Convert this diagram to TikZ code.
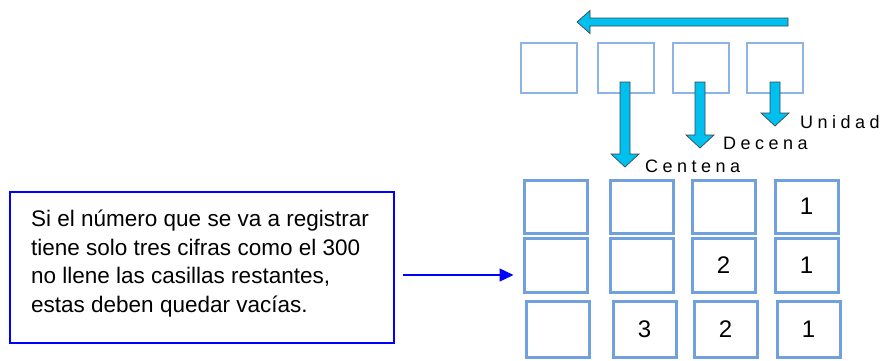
\documentclass[tikz,border=0pt]{standalone}
\usepackage{fontspec}
\setmainfont{Liberation Sans}
\newfontfamily\espaciada[LetterSpace=25]{Liberation Sans}
\usetikzlibrary{arrows.meta}

\definecolor{azulcasilla}{RGB}{112,160,222}
\definecolor{azulclaro}{RGB}{140,180,232}
\definecolor{celeste}{RGB}{0,192,240}
\definecolor{bordeflecha}{RGB}{60,70,80}

\tikzset{
  casilla/.style={draw=azulcasilla, line width=3pt, minimum width=63pt,
    minimum height=54pt, inner sep=0pt, font=\fontsize{24}{24}\selectfont},
  casillaarriba/.style={draw=azulclaro, line width=1.5pt, minimum width=56pt,
    minimum height=50pt, inner sep=0pt},
  bloque/.style={fill=celeste, draw=bordeflecha, line width=0.7pt},
  rotulo/.style={anchor=base west, inner sep=0pt, font=\espaciada\fontsize{18}{18}\selectfont},
  flecha/.style={draw=blue, line width=1.3pt, -{Triangle[length=14pt,width=13pt]}}
}

\begin{document}
\begin{tikzpicture}[x=1pt,y=-1pt]
        \useasboundingbox (0,0) rectangle (885,360);

        % casillas de arriba
        \node[casillaarriba] (t1) at (549,68) {};
        \node[casillaarriba] (t2) at (626,68) {};
        \node[casillaarriba] (t3) at (701,68) {};
        \node[casillaarriba] (t4) at (775,68) {};

        % flecha de derecha a izquierda
        \draw[bloque] (788,18) -- (590,18) -- (590,10.5) -- (577,22)
        -- (590,33.5) -- (590,26) -- (788,26) -- cycle;

        % flechas hacia abajo
        \draw[bloque] (620,82) -- (630,82) -- (630,154) -- (639,154)
        -- (625,167) -- (611,154) -- (620,154) -- cycle;
        \draw[bloque] (695,82) -- (705,82) -- (705,135) -- (714,135)
        -- (700,148) -- (686,135) -- (695,135) -- cycle;
        \draw[bloque] (770,82) -- (780,82) -- (780,113) -- (789,113)
        -- (775,126) -- (761,113) -- (770,113) -- cycle;

        \node[rotulo] (uni) at (800,128) {Unidad};
        \node[rotulo] (dec) at (723,149) {Decena};
        \node[rotulo] (cen) at (645,172) {Centena};

        % casillas de abajo
        \node[casilla, minimum height=53pt] (b11) at (555.5,206.5) {};
        \node[casilla, minimum height=53pt] (b12) at (641.5,206.5) {};
        \node[casilla, minimum height=53pt] (b13) at (723.5,206.5) {};
        \node[casilla, minimum height=53pt] (b14) at (806.5,206.5) {1};

        \node[casilla] (b21) at (555.5,265.5) {};
        \node[casilla] (b22) at (641.5,265.5) {};
        \node[casilla] (b23) at (723.5,265.5) {2};
        \node[casilla] (b24) at (806.5,265.5) {1};

        \node[casilla, minimum height=56pt] (b31) at (557.5,329) {};
        \node[casilla, minimum height=56pt] (b32) at (644.5,329) {3};
        \node[casilla, minimum height=56pt] (b33) at (725.5,329) {2};
        \node[casilla, minimum height=56pt] (b34) at (808.5,329) {1};

        % nota
        \node[draw=blue, line width=2pt, minimum width=384pt, minimum height=151pt,
        inner sep=0pt] (nota) at (202,267.5) {};
        \node[anchor=west, align=left, inner sep=0pt,
        font=\fontsize{22.5}{28.4}\selectfont] (texto) at (31,263.5)
        {Si el número que se va a registrar\\tiene solo tres cifras como el 300\\
        no llene las casillas restantes,\\estas deben quedar vacías.};

        \draw[flecha] ([shift={(8,7.5)}]nota.east) -- ([shift={(-9,9.5)}]b21.west);
      \end{tikzpicture}
\end{document}
